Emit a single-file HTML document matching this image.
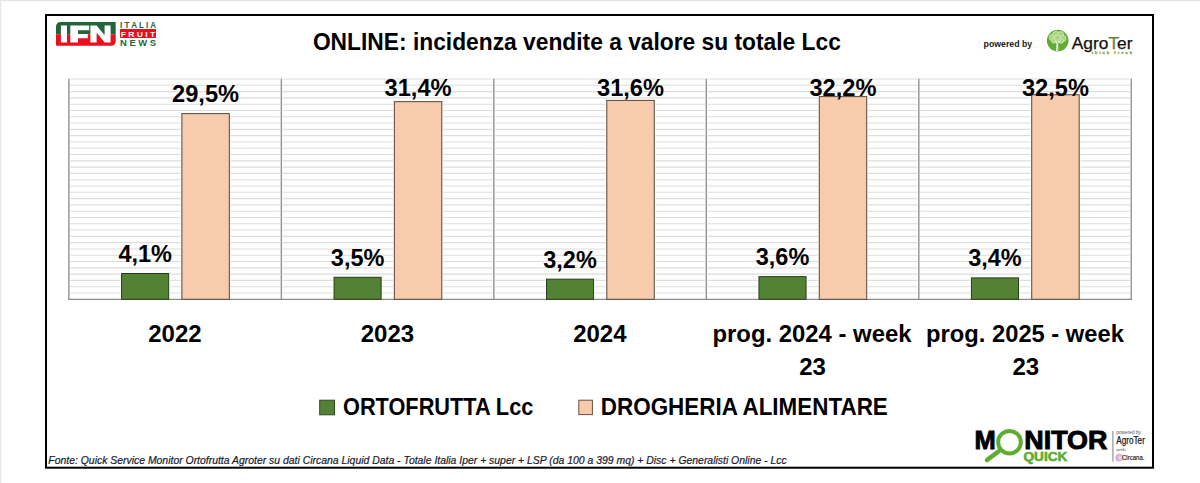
<!DOCTYPE html>
<html><head><meta charset="utf-8">
<style>
html,body{margin:0;padding:0;background:#fff;}
body{width:1200px;height:483px;position:relative;overflow:hidden;font-family:"Liberation Sans",sans-serif;}
svg{position:absolute;left:0;top:0;}
.dl{font-family:"Liberation Sans",sans-serif;font-weight:bold;font-size:24px;fill:#000;}
.cl{font-family:"Liberation Sans",sans-serif;font-weight:bold;font-size:24px;text-anchor:middle;fill:#000;}
.t{font-family:"Liberation Sans",sans-serif;}
.s{font-family:"Liberation Serif",serif;}
</style></head>
<body>
<svg width="1200" height="483" viewBox="0 0 1200 483">
<rect x="0" y="0" width="1200" height="1.2" fill="#E6E6E6"/>
<rect x="0" y="0" width="1.2" height="483" fill="#E6E6E6"/>
<rect x="46" y="15" width="1107" height="452.7" fill="#fff" stroke="#000" stroke-width="2"/>
<!-- IFN logo -->
<g>
<path d="M56,27 Q56,22 61,22 L115.7,22 L115.7,34.3 L56,34.3 Z" fill="#22653A"/>
<path d="M56,34.3 L115.7,34.3 L115.7,40.9 Q115.7,45.7 110.9,45.7 L57,45.7 Q56,45.7 56,44.7 Z" fill="#E8101C"/>
<path fill="#fff" d="M60.9,25.6 H67 V42.4 H60.9 Z
 M70.3,25.6 H89.2 V30.2 H78 V33.9 H87.8 V38.2 H78 V42.4 H70.3 Z
 M90.4,25.6 H96.6 L104.6,35.2 V25.6 H110.6 V42.4 H104.6 L96.6,32.6 V42.4 H90.4 Z"/>
<text x="120" y="27.7" class="t" font-weight="bold" font-size="8.8" fill="#22653A" textLength="36" lengthAdjust="spacingAndGlyphs">I T A L I A</text>
<rect x="120" y="29" width="36" height="8.9" rx="0.6" fill="#E8101C"/>
<text x="120.8" y="36.6" class="t" font-weight="bold" font-size="8" fill="#fff" textLength="34.5" lengthAdjust="spacingAndGlyphs">F R U I T</text>
<text x="120" y="46.2" class="t" font-weight="bold" font-size="8.5" fill="#22653A" textLength="36" lengthAdjust="spacingAndGlyphs">N  E  W  S</text>
</g>
<!-- title -->
<text x="312.9" y="49.7" class="t" font-weight="bold" font-size="24" fill="#000" textLength="528" lengthAdjust="spacingAndGlyphs">ONLINE: incidenza vendite a valore su totale Lcc</text>
<!-- powered by agroter -->
<text x="983.6" y="46.6" class="t" font-weight="bold" font-size="9.8" fill="#1a1a1a" textLength="48.6" lengthAdjust="spacingAndGlyphs">powered by</text>
<circle cx="1057.7" cy="40.6" r="10.8" fill="#62AC34"/>
<g fill="#A5D47C" stroke="#E8F5DC" stroke-width="0.6">
<circle cx="1052.5" cy="37.5" r="3.2"/>
<circle cx="1056" cy="34.5" r="3.3"/>
<circle cx="1060.5" cy="34.8" r="3.2"/>
<circle cx="1063" cy="38.5" r="3"/>
<circle cx="1057.5" cy="38.5" r="3.4"/>
<circle cx="1054" cy="40.8" r="2.4"/>
<circle cx="1061" cy="41" r="2.4"/>
</g>
<path d="M1056.6,51.2 L1057,43 L1054.5,40.5 M1057,44 L1060.5,40.5 M1057.9,51.2 L1057.6,43.5" stroke="#EEF8E6" stroke-width="1" fill="none"/>
<text x="1071.7" y="48.5" class="t" font-size="15.8" stroke="#111" stroke-width="0.25" fill="#111" textLength="60.8" lengthAdjust="spacingAndGlyphs">Agro<tspan fill="#6FAE2A">T</tspan>er</text>
<text x="1091.7" y="54" class="t" font-weight="bold" font-size="3.8" fill="#7E9A3C" stroke="#7E9A3C" stroke-width="0.25" textLength="40.3" lengthAdjust="spacing">think fresh</text>
<line x1="68.85" y1="293.01" x2="1131.30" y2="293.01" stroke="#DDDDDD" stroke-width="1.1"/>
<line x1="68.85" y1="286.71" x2="1131.30" y2="286.71" stroke="#DDDDDD" stroke-width="1.1"/>
<line x1="68.85" y1="280.42" x2="1131.30" y2="280.42" stroke="#DDDDDD" stroke-width="1.1"/>
<line x1="68.85" y1="274.12" x2="1131.30" y2="274.12" stroke="#DDDDDD" stroke-width="1.1"/>
<line x1="68.85" y1="267.83" x2="1131.30" y2="267.83" stroke="#DDDDDD" stroke-width="1.1"/>
<line x1="68.85" y1="261.53" x2="1131.30" y2="261.53" stroke="#DDDDDD" stroke-width="1.1"/>
<line x1="68.85" y1="255.24" x2="1131.30" y2="255.24" stroke="#DDDDDD" stroke-width="1.1"/>
<line x1="68.85" y1="248.95" x2="1131.30" y2="248.95" stroke="#DDDDDD" stroke-width="1.1"/>
<line x1="68.85" y1="242.65" x2="1131.30" y2="242.65" stroke="#DDDDDD" stroke-width="1.1"/>
<line x1="68.85" y1="236.36" x2="1131.30" y2="236.36" stroke="#DDDDDD" stroke-width="1.1"/>
<line x1="68.85" y1="230.06" x2="1131.30" y2="230.06" stroke="#DDDDDD" stroke-width="1.1"/>
<line x1="68.85" y1="223.77" x2="1131.30" y2="223.77" stroke="#DDDDDD" stroke-width="1.1"/>
<line x1="68.85" y1="217.47" x2="1131.30" y2="217.47" stroke="#DDDDDD" stroke-width="1.1"/>
<line x1="68.85" y1="211.18" x2="1131.30" y2="211.18" stroke="#DDDDDD" stroke-width="1.1"/>
<line x1="68.85" y1="204.89" x2="1131.30" y2="204.89" stroke="#DDDDDD" stroke-width="1.1"/>
<line x1="68.85" y1="198.59" x2="1131.30" y2="198.59" stroke="#DDDDDD" stroke-width="1.1"/>
<line x1="68.85" y1="192.30" x2="1131.30" y2="192.30" stroke="#DDDDDD" stroke-width="1.1"/>
<line x1="68.85" y1="186.00" x2="1131.30" y2="186.00" stroke="#DDDDDD" stroke-width="1.1"/>
<line x1="68.85" y1="179.71" x2="1131.30" y2="179.71" stroke="#DDDDDD" stroke-width="1.1"/>
<line x1="68.85" y1="173.41" x2="1131.30" y2="173.41" stroke="#DDDDDD" stroke-width="1.1"/>
<line x1="68.85" y1="167.12" x2="1131.30" y2="167.12" stroke="#DDDDDD" stroke-width="1.1"/>
<line x1="68.85" y1="160.83" x2="1131.30" y2="160.83" stroke="#DDDDDD" stroke-width="1.1"/>
<line x1="68.85" y1="154.53" x2="1131.30" y2="154.53" stroke="#DDDDDD" stroke-width="1.1"/>
<line x1="68.85" y1="148.24" x2="1131.30" y2="148.24" stroke="#DDDDDD" stroke-width="1.1"/>
<line x1="68.85" y1="141.94" x2="1131.30" y2="141.94" stroke="#DDDDDD" stroke-width="1.1"/>
<line x1="68.85" y1="135.65" x2="1131.30" y2="135.65" stroke="#DDDDDD" stroke-width="1.1"/>
<line x1="68.85" y1="129.35" x2="1131.30" y2="129.35" stroke="#DDDDDD" stroke-width="1.1"/>
<line x1="68.85" y1="123.06" x2="1131.30" y2="123.06" stroke="#DDDDDD" stroke-width="1.1"/>
<line x1="68.85" y1="116.77" x2="1131.30" y2="116.77" stroke="#DDDDDD" stroke-width="1.1"/>
<line x1="68.85" y1="110.47" x2="1131.30" y2="110.47" stroke="#DDDDDD" stroke-width="1.1"/>
<line x1="68.85" y1="104.18" x2="1131.30" y2="104.18" stroke="#DDDDDD" stroke-width="1.1"/>
<line x1="68.85" y1="97.88" x2="1131.30" y2="97.88" stroke="#DDDDDD" stroke-width="1.1"/>
<line x1="68.85" y1="91.59" x2="1131.30" y2="91.59" stroke="#DDDDDD" stroke-width="1.1"/>
<line x1="68.85" y1="85.29" x2="1131.30" y2="85.29" stroke="#DDDDDD" stroke-width="1.1"/>
<line x1="68.85" y1="79.00" x2="1131.30" y2="79.00" stroke="#DDDDDD" stroke-width="1.1"/>
<line x1="68.85" y1="78.00" x2="68.85" y2="298.50" stroke="#FFFFFF" stroke-width="2.8"/>
<line x1="281.34" y1="78.00" x2="281.34" y2="298.50" stroke="#FFFFFF" stroke-width="2.8"/>
<line x1="493.83" y1="78.00" x2="493.83" y2="298.50" stroke="#FFFFFF" stroke-width="2.8"/>
<line x1="706.32" y1="78.00" x2="706.32" y2="298.50" stroke="#FFFFFF" stroke-width="2.8"/>
<line x1="918.81" y1="78.00" x2="918.81" y2="298.50" stroke="#FFFFFF" stroke-width="2.8"/>
<line x1="1131.30" y1="78.00" x2="1131.30" y2="298.50" stroke="#FFFFFF" stroke-width="2.8"/>
<line x1="68.85" y1="78.60" x2="68.85" y2="299.30" stroke="#959595" stroke-width="1.45"/>
<line x1="281.34" y1="78.60" x2="281.34" y2="299.30" stroke="#959595" stroke-width="1.45"/>
<line x1="493.83" y1="78.60" x2="493.83" y2="299.30" stroke="#959595" stroke-width="1.45"/>
<line x1="706.32" y1="78.60" x2="706.32" y2="299.30" stroke="#959595" stroke-width="1.45"/>
<line x1="918.81" y1="78.60" x2="918.81" y2="299.30" stroke="#959595" stroke-width="1.45"/>
<line x1="1131.30" y1="78.60" x2="1131.30" y2="299.30" stroke="#959595" stroke-width="1.45"/>
<line x1="68.15" y1="299.30" x2="1132.00" y2="299.30" stroke="#8C8C8C" stroke-width="1.3"/>
<rect x="120.38" y="272.29" width="49.50" height="26.21" fill="#fff"/>
<rect x="121.58" y="273.49" width="47.10" height="25.81" fill="#548235" stroke="#253D17" stroke-width="1"/>
<rect x="180.68" y="112.42" width="49.85" height="186.08" fill="#fff"/>
<rect x="181.88" y="113.62" width="47.45" height="185.68" fill="#F8CBAD" stroke="#574538" stroke-width="1"/>
<rect x="332.84" y="276.07" width="49.50" height="22.43" fill="#fff"/>
<rect x="334.04" y="277.27" width="47.10" height="22.03" fill="#548235" stroke="#253D17" stroke-width="1"/>
<rect x="393.14" y="100.46" width="49.85" height="198.04" fill="#fff"/>
<rect x="394.34" y="101.66" width="47.45" height="197.64" fill="#F8CBAD" stroke="#574538" stroke-width="1"/>
<rect x="545.30" y="277.96" width="49.50" height="20.54" fill="#fff"/>
<rect x="546.50" y="279.16" width="47.10" height="20.14" fill="#548235" stroke="#253D17" stroke-width="1"/>
<rect x="605.60" y="99.20" width="49.85" height="199.30" fill="#fff"/>
<rect x="606.80" y="100.40" width="47.45" height="198.90" fill="#F8CBAD" stroke="#574538" stroke-width="1"/>
<rect x="757.76" y="275.44" width="49.50" height="23.06" fill="#fff"/>
<rect x="758.96" y="276.64" width="47.10" height="22.66" fill="#548235" stroke="#253D17" stroke-width="1"/>
<rect x="818.06" y="95.42" width="49.85" height="203.08" fill="#fff"/>
<rect x="819.26" y="96.62" width="47.45" height="202.68" fill="#F8CBAD" stroke="#574538" stroke-width="1"/>
<rect x="970.22" y="276.70" width="49.50" height="21.80" fill="#fff"/>
<rect x="971.42" y="277.90" width="47.10" height="21.40" fill="#548235" stroke="#253D17" stroke-width="1"/>
<rect x="1030.52" y="93.54" width="49.85" height="204.96" fill="#fff"/>
<rect x="1031.72" y="94.74" width="47.45" height="204.56" fill="#F8CBAD" stroke="#574538" stroke-width="1"/>
<text x="118.38" y="261.99" class="dl" textLength="53.5" lengthAdjust="spacingAndGlyphs">4,1%</text>
<text x="172.10" y="102.12" class="dl" textLength="67.0" lengthAdjust="spacingAndGlyphs">29,5%</text>
<text x="174.93" y="342.2" class="cl">2022</text>
<text x="330.84" y="265.77" class="dl" textLength="53.5" lengthAdjust="spacingAndGlyphs">3,5%</text>
<text x="384.56" y="95.60" class="dl" textLength="67.0" lengthAdjust="spacingAndGlyphs">31,4%</text>
<text x="387.39" y="342.2" class="cl">2023</text>
<text x="543.30" y="267.66" class="dl" textLength="53.5" lengthAdjust="spacingAndGlyphs">3,2%</text>
<text x="597.03" y="95.60" class="dl" textLength="67.0" lengthAdjust="spacingAndGlyphs">31,6%</text>
<text x="599.85" y="342.2" class="cl">2024</text>
<text x="755.76" y="265.14" class="dl" textLength="53.5" lengthAdjust="spacingAndGlyphs">3,6%</text>
<text x="809.49" y="95.60" class="dl" textLength="67.0" lengthAdjust="spacingAndGlyphs">32,2%</text>
<text x="712.5" y="342.2" class="cl" text-anchor="start" style="text-anchor:start" textLength="199.0" lengthAdjust="spacingAndGlyphs">prog. 2024 - week</text>
<text x="812.61" y="374.8" class="cl">23</text>
<text x="968.22" y="266.40" class="dl" textLength="53.5" lengthAdjust="spacingAndGlyphs">3,4%</text>
<text x="1021.94" y="95.60" class="dl" textLength="67.0" lengthAdjust="spacingAndGlyphs">32,5%</text>
<text x="926.1" y="342.2" class="cl" text-anchor="start" style="text-anchor:start" textLength="197.8" lengthAdjust="spacingAndGlyphs">prog. 2025 - week</text>
<text x="1025.77" y="374.8" class="cl">23</text>
<!-- legend -->
<rect x="319.7" y="400.2" width="14.8" height="14.6" fill="#548235" stroke="#2E4A1E" stroke-width="1"/>
<text x="343" y="415" class="t" font-weight="bold" font-size="23.4" fill="#000" textLength="190.3" lengthAdjust="spacingAndGlyphs">ORTOFRUTTA Lcc</text>
<rect x="578.8" y="400.2" width="13.6" height="14.4" fill="#F8CBAD" stroke="#6B5040" stroke-width="1"/>
<text x="600.8" y="415" class="t" font-weight="bold" font-size="23.4" fill="#000" textLength="287" lengthAdjust="spacingAndGlyphs">DROGHERIA ALIMENTARE</text>
<!-- footer -->
<text x="48.3" y="464.3" class="t" font-style="italic" font-size="10" fill="#1a1a2e" stroke="#1a1a2e" stroke-width="0.2" textLength="738.4" lengthAdjust="spacingAndGlyphs">Fonte: Quick Service Monitor Ortofrutta Agroter su dati Circana Liquid Data - Totale Italia Iper + super + LSP (da 100 a 399 mq) + Disc + Generalisti Online - Lcc</text>
<!-- monitor quick -->
<text x="974.4" y="449.1" class="t" font-weight="900" font-size="25.4" fill="#000" stroke="#000" stroke-width="0.9" textLength="21.2" lengthAdjust="spacingAndGlyphs">M</text>
<text x="1024.3" y="449.1" class="t" font-weight="900" font-size="25.4" fill="#000" stroke="#000" stroke-width="0.9" textLength="83.1" lengthAdjust="spacingAndGlyphs">NITOR</text>
<circle cx="1009.5" cy="442.2" r="11.3" fill="none" stroke="#5DAD2F" stroke-width="4"/>
<line x1="998.5" y1="451.5" x2="987" y2="460" stroke="#5DAD2F" stroke-width="4.6" stroke-linecap="round"/>
<text x="1023.6" y="461.4" class="t" font-weight="900" font-size="12.8" fill="#5DAD2F" stroke="#5DAD2F" stroke-width="0.6" textLength="43.6" lengthAdjust="spacingAndGlyphs">QUICK</text>
<line x1="1112.9" y1="431" x2="1112.9" y2="461.6" stroke="#8A8A8A" stroke-width="1.1"/>
<text x="1116.3" y="434.4" class="t" font-size="4.6" fill="#555" textLength="24.7" lengthAdjust="spacingAndGlyphs">powered by</text>
<text x="1116.2" y="443.9" class="t" font-size="10" fill="#1a1a1a" stroke="#1a1a1a" stroke-width="0.25" textLength="28.7" lengthAdjust="spacingAndGlyphs">AgroTer</text>
<text x="1116.3" y="450.9" class="t" font-size="4.2" fill="#555" textLength="9.5" lengthAdjust="spacingAndGlyphs">with</text>
<defs><radialGradient id="cg" cx="0.6" cy="0.5" r="0.6"><stop offset="0" stop-color="#F2E2F0"/><stop offset="1" stop-color="#CE9ACF"/></radialGradient></defs>
<circle cx="1119.4" cy="457.6" r="3.9" fill="url(#cg)"/>
<text x="1122" y="460.2" class="t" font-size="6.3" fill="#1a1a1a" stroke="#1a1a1a" stroke-width="0.15" textLength="22.5" lengthAdjust="spacingAndGlyphs">Circana.</text>
</svg>
</body></html>
